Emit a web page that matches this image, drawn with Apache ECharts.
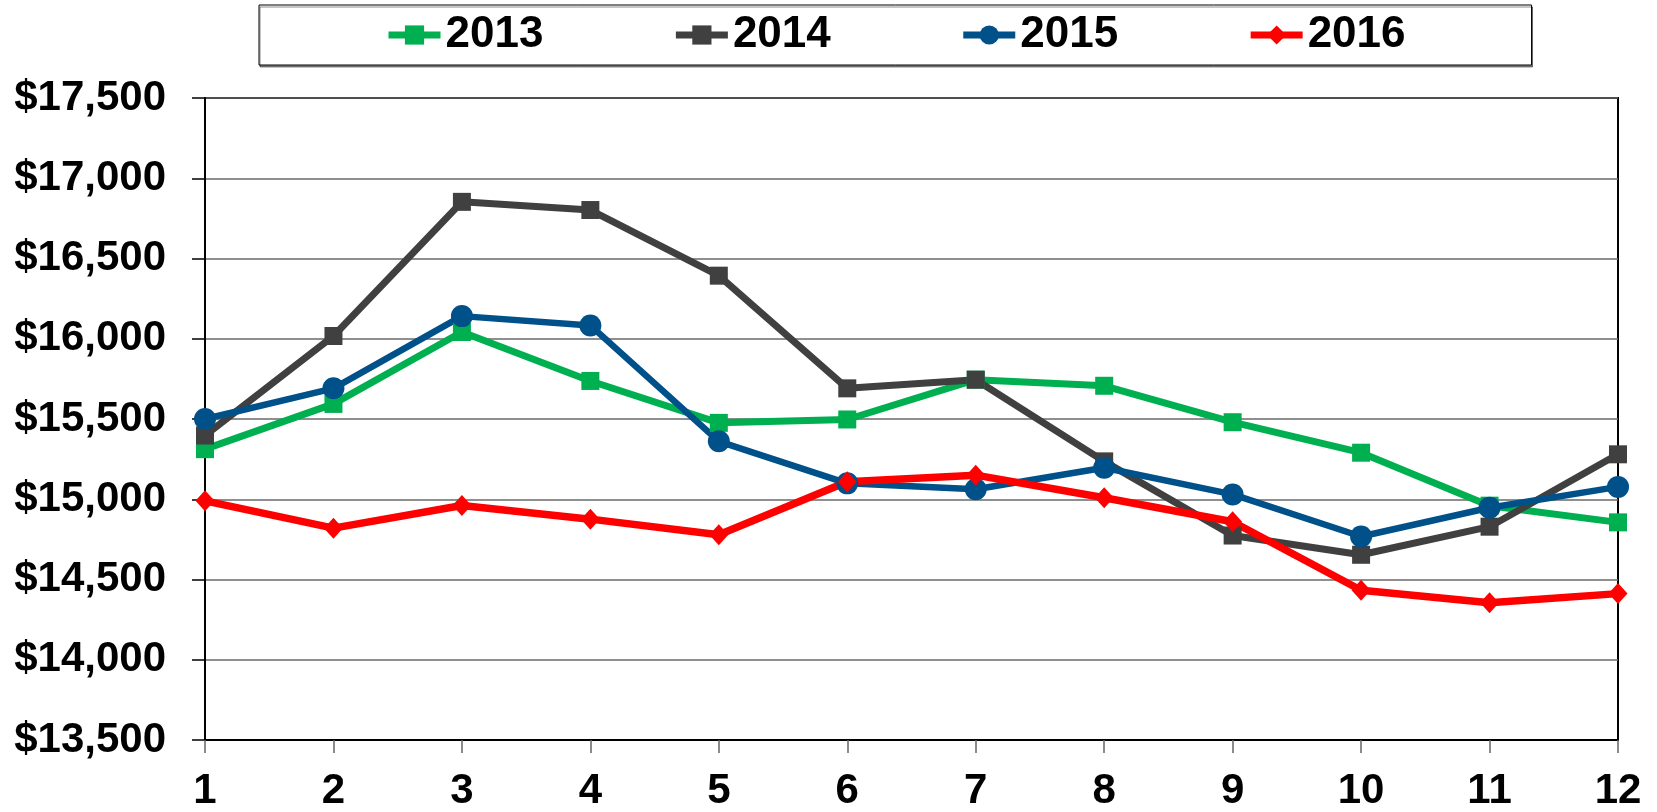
<!DOCTYPE html>
<html><head><meta charset="utf-8">
<script src="https://cdn.jsdelivr.net/npm/echarts@6/dist/echarts.min.js"></script>
<style>html,body{margin:0;padding:0;background:#fff}#c{width:1657px;height:812px}</style>
</head><body><div id="c"></div>
<script>
const months = ['1','2','3','4','5','6','7','8','9','10','11','12'];
const seriesNames = ['2013','2014','2015','2016'];
const s2013 = [15312, 15594, 16042, 15737, 15476, 15497, 15745, 15707, 15480, 15290, 14960, 14856];
const s2014 = [15397, 16017, 16853, 16802, 16393, 15691, 15745, 15236, 14774, 14654, 14829, 15280];
const s2015 = [15500, 15691, 16141, 16083, 15361, 15099, 15062, 15196, 15030, 14768, 14947, 15077];
const s2016 = [14990, 14820, 14961, 14876, 14779, 15109, 15150, 15009, 14860, 14433, 14355, 14412];
const yMin = 13500, yMax = 17500, yStep = 500;

const FONT = 'Liberation Sans, Arial, sans-serif';
const chart = echarts.init(document.getElementById('c'), null, {renderer:'canvas'});
function mk(name, data, color, symbol, size, width){
  return {name, type:'line', data, symbol, symbolSize:size, showSymbol:true,
    lineStyle:{color, width}, itemStyle:{color, borderWidth:0}, z: 2};
}
chart.setOption({
  animation:false,
  backgroundColor:'#fff',
  legend:{
    left:259, top:5, padding:[8,126,8,126], itemGap:129, itemWidth:52, itemHeight:24,
    borderColor:'#000', borderWidth:1,
    shadowColor:'rgba(0,0,0,0.45)', shadowOffsetX:1, shadowOffsetY:2, shadowBlur:0,
    backgroundColor:'#fff',
    lineStyle:{width:7},
    textStyle:{fontFamily:FONT, fontWeight:'bold', fontSize:44, color:'#000'},
    data: seriesNames
  },
  grid:{left:205, right:39, top:98, bottom:69, show:true, borderColor:'#000', borderWidth:2},
  xAxis:{
    type:'category', data:months, boundaryGap:false,
    axisLine:{lineStyle:{color:'#000', width:2}},
    axisTick:{show:true, inside:false, length:13, lineStyle:{color:'#666', width:1.5}},
    axisLabel:{fontFamily:FONT, fontWeight:'bold', fontSize:42, color:'#000', margin:30},
    splitLine:{show:false}
  },
  yAxis:{
    type:'value', min:yMin, max:yMax, interval:yStep,
    axisLine:{show:true, lineStyle:{color:'#000', width:2}},
    axisTick:{show:true, inside:false, length:13, lineStyle:{color:'#000', width:1.5}},
    axisLabel:{fontFamily:FONT, fontWeight:'bold', fontSize:42, color:'#000', margin:39,
      formatter: v => '$' + v.toLocaleString('en-US')},
    splitLine:{show:true, lineStyle:{color:'#6a6a6a', width:1.5}}
  },
  series:[
    mk('2013', s2013, '#00B050', 'rect', 18, 7),
    mk('2014', s2014, '#404040', 'rect', 18, 7),
    mk('2015', s2015, '#00518A', 'circle', 22, 6.5),
    mk('2016', s2016, '#FF0000', 'diamond', [19,21], 7.5)
  ]
});
</script></body></html>
